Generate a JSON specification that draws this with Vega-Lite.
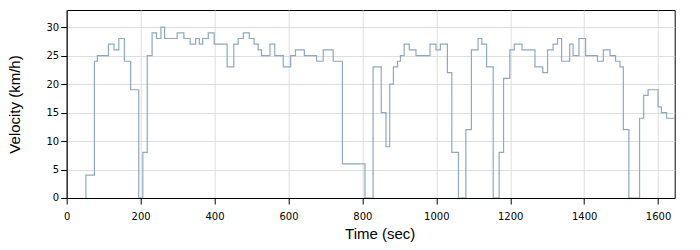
{
  "$schema": "https://vega.github.io/schema/vega-lite/v6.json",
  "width": 608,
  "height": 188,
  "autosize": {"type": "none"},
  "padding": {"left": 66.7, "top": 10, "right": 25, "bottom": 52},
  "background": "white",
  "config": {
    "view": {"stroke": "black", "strokeWidth": 1},
    "axis": {
      "labelFont": "DejaVu Sans",
      "labelFontSize": 10,
      "labelColor": "black",
      "titleFont": "Liberation Sans",
      "titleFontSize": 15,
      "titleFontWeight": "normal",
      "titleColor": "black",
      "domainColor": "black",
      "tickColor": "black",
      "tickSize": 6,
      "gridColor": "#dedede",
      "gridWidth": 1
    }
  },
  "data": {
    "values": [
      {"t": 52, "v": 0}, {"t": 52, "v": 4}, {"t": 75, "v": 24}, {"t": 83, "v": 25},
      {"t": 113, "v": 27}, {"t": 128, "v": 26}, {"t": 141, "v": 28}, {"t": 156, "v": 24},
      {"t": 173, "v": 19}, {"t": 195, "v": 0}, {"t": 206, "v": 8}, {"t": 218, "v": 25},
      {"t": 231, "v": 29}, {"t": 243, "v": 28}, {"t": 255, "v": 30}, {"t": 265, "v": 28},
      {"t": 299, "v": 29}, {"t": 317, "v": 28}, {"t": 334, "v": 27}, {"t": 349, "v": 28},
      {"t": 359, "v": 27}, {"t": 368, "v": 28}, {"t": 383, "v": 29}, {"t": 399, "v": 27},
      {"t": 434, "v": 23}, {"t": 452, "v": 27}, {"t": 464, "v": 28}, {"t": 478, "v": 29},
      {"t": 494, "v": 28}, {"t": 507, "v": 27}, {"t": 518, "v": 26}, {"t": 527, "v": 25},
      {"t": 550, "v": 27}, {"t": 563, "v": 25}, {"t": 586, "v": 23}, {"t": 606, "v": 25},
      {"t": 619, "v": 26}, {"t": 643, "v": 25}, {"t": 676, "v": 24}, {"t": 694, "v": 26},
      {"t": 721, "v": 24}, {"t": 746, "v": 6}, {"t": 807, "v": 0}, {"t": 829, "v": 23},
      {"t": 851, "v": 15}, {"t": 864, "v": 9}, {"t": 874, "v": 20}, {"t": 884, "v": 23},
      {"t": 895, "v": 24}, {"t": 903, "v": 25}, {"t": 913, "v": 27}, {"t": 927, "v": 26},
      {"t": 945, "v": 25}, {"t": 983, "v": 27}, {"t": 999, "v": 26}, {"t": 1011, "v": 27},
      {"t": 1030, "v": 22}, {"t": 1042, "v": 8}, {"t": 1060, "v": 0}, {"t": 1080, "v": 12},
      {"t": 1095, "v": 26}, {"t": 1113, "v": 28}, {"t": 1123, "v": 27}, {"t": 1136, "v": 23},
      {"t": 1154, "v": 0}, {"t": 1170, "v": 8}, {"t": 1182, "v": 21}, {"t": 1199, "v": 26},
      {"t": 1211, "v": 27}, {"t": 1232, "v": 26}, {"t": 1267, "v": 23}, {"t": 1288, "v": 22},
      {"t": 1301, "v": 26}, {"t": 1316, "v": 27}, {"t": 1328, "v": 28}, {"t": 1339, "v": 24},
      {"t": 1361, "v": 27}, {"t": 1370, "v": 25}, {"t": 1386, "v": 28}, {"t": 1404, "v": 25},
      {"t": 1436, "v": 24}, {"t": 1452, "v": 26}, {"t": 1470, "v": 25}, {"t": 1485, "v": 24},
      {"t": 1497, "v": 23}, {"t": 1506, "v": 12}, {"t": 1521, "v": 0}, {"t": 1550, "v": 14},
      {"t": 1561, "v": 18}, {"t": 1573, "v": 19}, {"t": 1600, "v": 16}, {"t": 1609, "v": 15},
      {"t": 1623, "v": 14}, {"t": 1645, "v": 14}
    ]
  },
  "mark": {"type": "line", "interpolate": "step-after", "color": "#8ea8c0", "strokeWidth": 1.2, "clip": true},
  "encoding": {
    "x": {
      "field": "t", "type": "quantitative", "sort": null,
      "scale": {"domain": [0, 1645], "nice": false, "zero": false},
      "axis": {"title": "Time (sec)", "format": "d", "values": [0, 200, 400, 600, 800, 1000, 1200, 1400, 1600], "labelPadding": 8, "titlePadding": 5, "titleX": 313, "labelFlush": false}
    },
    "y": {
      "field": "v", "type": "quantitative",
      "scale": {"domain": [0, 33], "nice": false},
      "axis": {"title": "Velocity (km/h)", "values": [0, 5, 10, 15, 20, 25, 30], "labelPadding": 2, "titlePadding": 23}
    },
    "order": {"field": "t", "type": "quantitative"}
  }
}
